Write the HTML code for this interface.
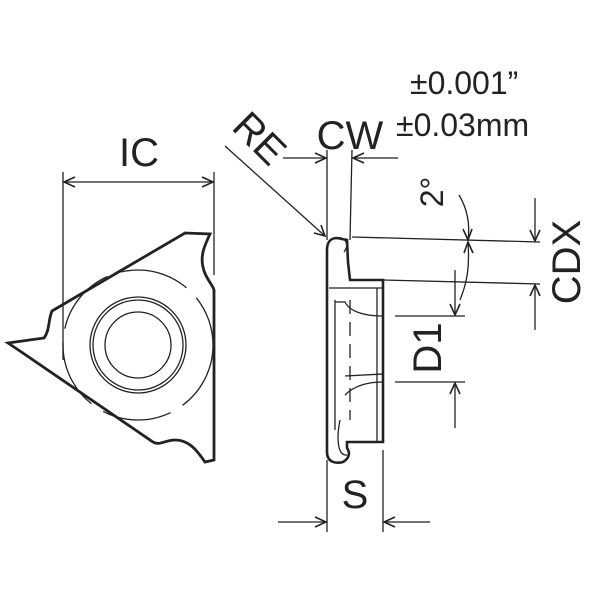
<!DOCTYPE html>
<html><head><style>body{margin:0;background:#fff}svg{display:block}text{font-family:"Liberation Sans",sans-serif;fill:#222}</style></head><body>
<svg width="600" height="600" viewBox="0 0 600 600" xmlns="http://www.w3.org/2000/svg">
<g stroke="#222" fill="none" stroke-width="1.3">
<line x1="63" y1="172" x2="63" y2="360"/><line x1="214" y1="172" x2="214" y2="275"/>
<line x1="64" y1="182" x2="213" y2="182"/>
<path d="M75,177 L64,182 L75,187 M202,177 L213,182 L202,187" stroke-width="1.6"/>
<path d="M52,311 L185,233 L210,234 C205,245 200,255 203,267 C205,278 213,285 214,290 L214,460 L205,462 C198,452 190,440 175,440 C165,440 160,446 153,442 L17,349 L8,343 L44,338 C50,330 48,320 52,311Z" stroke-width="2.8"/>
<circle cx="138" cy="345" r="48"/><circle cx="138" cy="345" r="45"/><circle cx="138" cy="345" r="33"/>
<circle cx="138" cy="345" r="75" stroke-dasharray="70 14"/>
<path d="M337,238 C330,238 327,243 327,250 L327,452 C327,462 335,464 343,462 C350,458 350,452 347,448 L347,442 L383,442 L383,280 L350,280 L348,262 L347,240 Z" stroke-width="2.6"/>
<path d="M336,238 C345,236 350,244 344,252"/>
<line x1="329" y1="288" x2="383" y2="288"/><line x1="377" y1="288" x2="377" y2="442"/>
<line x1="335" y1="300" x2="335" y2="430"/><line x1="350" y1="300" x2="350" y2="420" stroke-dasharray="14 8"/>
<path d="M335,302 L345,302 C350,312 365,316 383,316"/><path d="M345,376 L383,374 M345,395 C355,385 370,382 383,382"/>
<path d="M340,420 C336,440 338,456 347,455"/>
<line x1="327" y1="150" x2="327" y2="240"/><line x1="352" y1="150" x2="350" y2="240"/>
<line x1="283" y1="158" x2="326" y2="158"/><line x1="398" y1="158" x2="353" y2="158"/>
<path d="M315,153 L326,158 L315,163 M364,153 L353,158 L364,163" stroke-width="1.6"/>
<line x1="225" y1="146" x2="325" y2="236"/>
<path d="M314,233 L325,236 L321,225" stroke-width="1.6"/>
<line x1="352" y1="237" x2="540" y2="242"/><line x1="383" y1="280" x2="540" y2="284"/>
<line x1="535" y1="198" x2="535" y2="241"/><line x1="535" y1="330" x2="535" y2="285"/>
<path d="M530,230 L535,241 L540,230 M530,296 L535,285 L540,296" stroke-width="1.6"/>
<path d="M459,195 C468,210 470,225 468,240"/><path d="M460,300 C466,285 470,270 468,242"/>
<path d="M463,229 L468,240 L472,229 M464,253 L468,242 L473,253" stroke-width="1.6"/>
<line x1="395" y1="316" x2="465" y2="316"/><line x1="395" y1="382" x2="465" y2="382"/>
<line x1="455" y1="270" x2="455" y2="315"/><line x1="455" y1="428" x2="455" y2="383"/>
<path d="M450,304 L455,315 L460,304 M450,394 L455,383 L460,394" stroke-width="1.6"/>
<line x1="327" y1="460" x2="327" y2="532"/><line x1="383" y1="450" x2="383" y2="532"/>
<line x1="278" y1="522" x2="326" y2="522"/><line x1="430" y1="522" x2="384" y2="522"/>
<path d="M315,517 L326,522 L315,527 M395,517 L384,522 L395,527" stroke-width="1.6"/>
</g>
<g font-size="40">
<text x="139" y="166" text-anchor="middle">IC</text>
<text x="350" y="149" text-anchor="middle">CW</text>
<text x="355" y="508" text-anchor="middle">S</text>
<text transform="translate(250,148) rotate(45)" text-anchor="middle">RE</text>
<text transform="translate(580,262) rotate(-90)" text-anchor="middle">CDX</text>
<text transform="translate(441,348) rotate(-90)" text-anchor="middle">D1</text>
<text transform="translate(443,192) rotate(-90)" text-anchor="middle" font-size="32">2°</text>
</g>
<text x="410" y="94" font-size="32">±0.001”</text>
<text x="396" y="136" font-size="32">±0.03mm</text>
</svg>
</body></html>
